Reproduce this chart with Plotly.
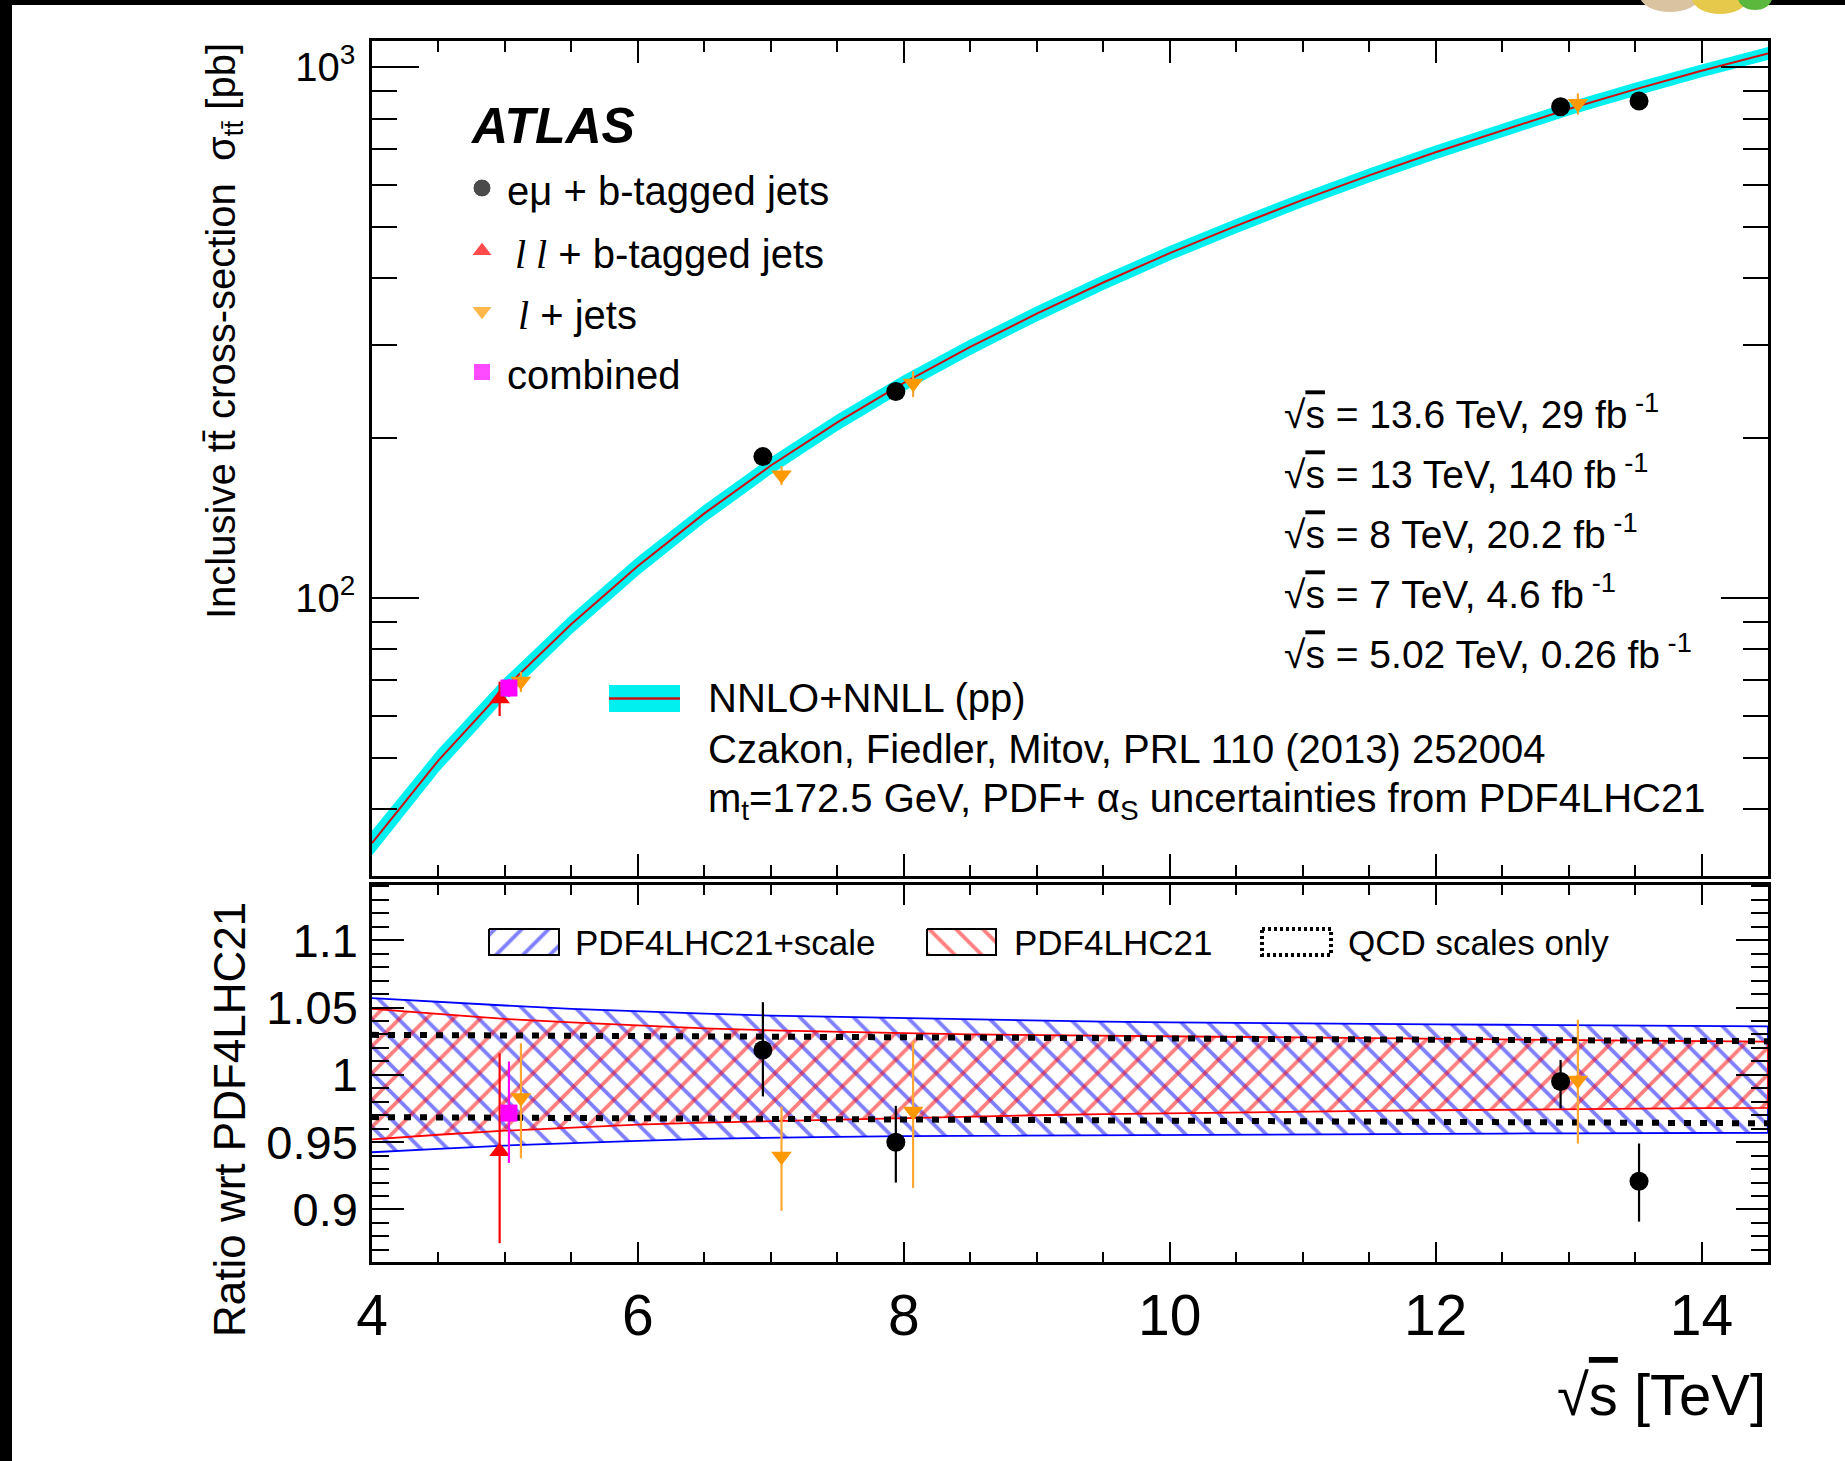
import plotly.graph_objects as go

# ---------------- data ----------------
theory_x = [4.0, 4.5, 5.0, 5.5, 6.0, 6.5, 7.0, 7.5, 8.0, 8.5, 9.0, 9.5,
            10.0, 10.5, 11.0, 11.5, 12.0, 12.5, 13.0, 13.5, 14.0, 14.5]
theory_xsec = [34.5, 49.4, 67.6, 89.2, 114.8, 144.2, 177.5, 214.1, 254.0, 296.9, 343.0, 392.8,
               446.0, 502.0, 562.0, 625.0, 691.0, 760.0, 834.0, 908.0, 984.0, 1061.0]
# PDF4LHC21 + scale (total) relative band
tot_hi = [1.057, 1.054, 1.0515, 1.049, 1.047, 1.0455, 1.044, 1.043, 1.042, 1.041, 1.040, 1.0395,
          1.039, 1.0385, 1.038, 1.0378, 1.0375, 1.0372, 1.037, 1.0366, 1.0362, 1.036]
tot_lo = [0.9425, 0.945, 0.9475, 0.9495, 0.951, 0.9525, 0.9535, 0.954, 0.9545, 0.955, 0.955, 0.9552,
          0.9555, 0.9557, 0.956, 0.956, 0.9562, 0.9564, 0.9566, 0.9568, 0.957, 0.957]
# PDF4LHC21 (PDF + alpha_s) relative band
pdf_hi = [1.049, 1.045, 1.0415, 1.039, 1.0365, 1.0345, 1.033, 1.0318, 1.031, 1.030, 1.0295, 1.029,
          1.0285, 1.028, 1.0275, 1.027, 1.0265, 1.026, 1.0257, 1.0254, 1.025, 1.0247]
pdf_lo = [0.952, 0.9555, 0.9585, 0.961, 0.963, 0.9645, 0.966, 0.967, 0.968, 0.969, 0.970, 0.9708,
          0.9715, 0.972, 0.9727, 0.9732, 0.9737, 0.9742, 0.9746, 0.975, 0.9753, 0.9755]
# QCD scales only
scale_x = [4.0, 14.5]
scale_hi = [1.0297, 1.0250]
scale_lo = [0.9686, 0.9640]

# measurements
em_x = [6.94, 7.94, 12.94, 13.53]
em_xsec = [184.5, 244.7, 842.0, 863.0]
em_ratio = [1.0185, 0.950, 0.995, 0.921]
em_ratio_hi = [1.054, 0.977, 1.011, 0.949]
em_ratio_lo = [0.984, 0.920, 0.975, 0.891]

ll_x = [4.96]
ll_xsec = [64.5]
ll_ratio = [0.943]
ll_ratio_hi = [1.016]
ll_ratio_lo = [0.875]

lj_x = [5.12, 7.08, 8.07, 13.07]
lj_xsec = [69.6, 170.4, 253.7, 854.0]
lj_ratio = [0.983, 0.9395, 0.973, 0.996]
lj_ratio_hi = [1.0235, 0.9765, 1.025, 1.041]
lj_ratio_lo = [0.938, 0.899, 0.916, 0.949]

comb_x = [5.03]
comb_xsec = [67.6]
comb_ratio = [0.9716]
comb_ratio_hi = [1.0099]
comb_ratio_lo = [0.9346]

sqrt_s_labels = ["13.6 TeV, 29 fb", "13 TeV, 140 fb", "8 TeV, 20.2 fb", "7 TeV, 4.6 fb", "5.02 TeV, 0.26 fb"]

# ---------------- layout geometry (pixels) ----------------
W, H = 1845, 1461
X0, X1 = 372, 1768
TOP_T, TOP_B = 41, 876
BOT_T, BOT_B = 885, 1262

FONT = "Liberation Sans, Arial, sans-serif"
BLACK = "#000000"
ORANGE = "#ff9900"
ORANGE_E = "#ffa733"
MAGENTA = "#ff00ff"
RED = "#ff0000"
BLUE = "#0000ff"
CYAN = "#00f0f0"

HATCH_SIZE = 19
HATCH_SOL = 0.2

fig = go.Figure()

# ---------------- top panel ----------------
band_up = [t * h for t, h in zip(theory_xsec, pdf_hi)]
band_dn = [t * l for t, l in zip(theory_xsec, pdf_lo)]
fig.add_trace(go.Scatter(x=theory_x + theory_x[::-1], y=band_up + band_dn[::-1],
                         fill="toself", fillcolor=CYAN, line=dict(color=CYAN, width=1.5),
                         mode="lines", xaxis="x2", yaxis="y2", showlegend=False, hoverinfo="skip"))
fig.add_trace(go.Scatter(x=theory_x, y=theory_xsec, mode="lines", line=dict(color="#d01010", width=2),
                         xaxis="x2", yaxis="y2", showlegend=False))


def rel_err(vals, r, rhi, rlo):
    up = [v * (h / c - 1) for v, c, h in zip(vals, r, rhi)]
    dn = [v * (1 - l / c) for v, c, l in zip(vals, r, rlo)]
    return up, dn


def add_points(x, y, up, dn, symbol, color, ecolor, size, xa, ya):
    fig.add_trace(go.Scatter(
        x=x, y=y, mode="markers",
        marker=dict(symbol=symbol, color=color, size=size, line=dict(width=0)),
        error_y=dict(type="data", symmetric=False, array=up, arrayminus=dn,
                     width=0, thickness=2.2, color=ecolor),
        xaxis=xa, yaxis=ya, showlegend=False, cliponaxis=False))


series = [
    (ll_x, ll_xsec, ll_ratio, ll_ratio_hi, ll_ratio_lo, "triangle-up", RED, RED, 18),
    (lj_x, lj_xsec, lj_ratio, lj_ratio_hi, lj_ratio_lo, "triangle-down", ORANGE, ORANGE_E, 18),
    (comb_x, comb_xsec, comb_ratio, comb_ratio_hi, comb_ratio_lo, "square", MAGENTA, MAGENTA, 17),
    (em_x, em_xsec, em_ratio, em_ratio_hi, em_ratio_lo, "circle", BLACK, BLACK, 19),
]
for sx, sy, sr, shi, slo, sym, col, ecol, sz in series:
    up, dn = rel_err(sy, sr, shi, slo)
    add_points(sx, sy, up, dn, sym, col, ecol, sz, "x2", "y2")

# ---------------- ratio panel ----------------
fig.add_trace(go.Scatter(x=theory_x + theory_x[::-1], y=tot_hi + tot_lo[::-1], fill="toself",
                         fillcolor="rgba(0,0,0,0)",
                         fillpattern=dict(shape="\\", fgcolor=BLUE, bgcolor="rgba(0,0,0,0)",
                                          size=HATCH_SIZE, solidity=HATCH_SOL),
                         line=dict(color=BLUE, width=1.8), mode="lines",
                         xaxis="x", yaxis="y", showlegend=False, hoverinfo="skip"))
fig.add_trace(go.Scatter(x=theory_x + theory_x[::-1], y=pdf_hi + pdf_lo[::-1], fill="toself",
                         fillcolor="rgba(0,0,0,0)",
                         fillpattern=dict(shape="/", fgcolor=RED, bgcolor="rgba(0,0,0,0)",
                                          size=HATCH_SIZE, solidity=HATCH_SOL),
                         line=dict(color=RED, width=1.8), mode="lines",
                         xaxis="x", yaxis="y", showlegend=False, hoverinfo="skip"))
for arr in (scale_hi, scale_lo):
    fig.add_trace(go.Scatter(x=scale_x, y=arr, mode="lines",
                             line=dict(color=BLACK, width=6, dash="7px,9px"),
                             xaxis="x", yaxis="y", showlegend=False))

for sx, sy, sr, shi, slo, sym, col, ecol, sz in series:
    up = [h - c for c, h in zip(sr, shi)]
    dn = [c - l for c, l in zip(sr, slo)]
    add_points(sx, sr, up, dn, sym, col, ecol, sz, "x", "y")

# ---------------- overlay (pixel coordinates) for legends ----------------
fig.add_trace(go.Scatter(x=[482, 482, 482, 482], y=[188, 251, 311, 372], mode="markers",
                         marker=dict(symbol=["circle", "triangle-up", "triangle-down", "square"],
                                     color=[BLACK, RED, ORANGE, MAGENTA], size=[18, 18, 18, 17]),
                         xaxis="x3", yaxis="y3", showlegend=False, hoverinfo="skip"))
fig.add_trace(go.Scatter(x=[489, 559, 559, 489, 489], y=[929, 929, 955, 955, 929], fill="toself",
                         fillcolor="rgba(0,0,0,0)",
                         fillpattern=dict(shape="/", fgcolor=BLUE, bgcolor="rgba(0,0,0,0)",
                                          size=HATCH_SIZE, solidity=HATCH_SOL),
                         line=dict(color=BLACK, width=2), mode="lines",
                         xaxis="x3", yaxis="y3", showlegend=False, hoverinfo="skip"))
fig.add_trace(go.Scatter(x=[927, 996, 996, 927, 927], y=[929, 929, 955, 955, 929], fill="toself",
                         fillcolor="rgba(0,0,0,0)",
                         fillpattern=dict(shape="\\", fgcolor=RED, bgcolor="rgba(0,0,0,0)",
                                          size=HATCH_SIZE, solidity=HATCH_SOL),
                         line=dict(color=BLACK, width=2), mode="lines",
                         xaxis="x3", yaxis="y3", showlegend=False, hoverinfo="skip"))
fig.add_trace(go.Scatter(x=[1262, 1331, 1331, 1262, 1262], y=[929, 929, 955, 955, 929],
                         line=dict(color=BLACK, width=4, dash="3px,3px"), mode="lines",
                         xaxis="x3", yaxis="y3", showlegend=False, hoverinfo="skip"))

shapes = [
    dict(type="rect", xref="x3", yref="y3", x0=609, x1=680, y0=685, y1=712,
         fillcolor=CYAN, line=dict(width=0)),
    dict(type="line", xref="x3", yref="y3", x0=609, x1=680, y0=698.5, y1=698.5,
         line=dict(color="#d01010", width=2.5)),
    # black borders of the photographed page
    dict(type="rect", xref="x3", yref="y3", x0=0, x1=12, y0=0, y1=H,
         fillcolor="black", line=dict(width=0)),
    dict(type="rect", xref="x3", yref="y3", x0=0, x1=W, y0=0, y1=5,
         fillcolor="black", line=dict(width=0)),
    dict(type="circle", xref="x3", yref="y3", x0=1640, x1=1700, y0=-20, y1=12,
         fillcolor="#d9c3a0", line=dict(width=0)),
    dict(type="circle", xref="x3", yref="y3", x0=1692, x1=1748, y0=-18, y1=14,
         fillcolor="#e6c84a", line=dict(width=0)),
    dict(type="circle", xref="x3", yref="y3", x0=1738, x1=1772, y0=-14, y1=10,
         fillcolor="#5cb83c", line=dict(width=0)),
]

ann = []


def text(x, y, s, size, xanchor="left", yanchor="middle", angle=0, color="black", family=FONT):
    ann.append(dict(x=x, y=y, xref="x3", yref="y3", text=s, showarrow=False,
                    xanchor=xanchor, yanchor=yanchor, textangle=angle,
                    font=dict(size=size, color=color, family=family)))


text(468, 126, "<b><i>ATLAS</i></b>", 50)
text(505, 191, "eμ + b-tagged jets", 40)
text(513, 254, "<span style='font-family:Liberation Serif'><i>l l</i></span> + b-tagged jets", 40)
text(516, 315, "<span style='font-family:Liberation Serif'><i>l</i></span> + jets", 40)
text(505, 375, "combined", 40)

SQ = "√<span style='text-decoration:overline'>s</span>"
for i, lab in enumerate(sqrt_s_labels):
    text(1282, 411 + 60 * i, SQ + " = " + lab + "<sup> -1</sup>", 39)

text(706, 698, "NNLO+NNLL (pp)", 40)
text(706, 749, "Czakon, Fiedler, Mitov, PRL 110 (2013) 252004", 40)
text(706, 801, "m<sub>t</sub>=172.5 GeV, PDF+ α<sub>S</sub> uncertainties from PDF4LHC21", 40)

text(573, 942, "PDF4LHC21+scale", 35)
text(1012, 942, "PDF4LHC21", 35)
text(1346, 942, "QCD scales only", 35)

text(224, 331, "Inclusive tt\u0304 cross-section  σ<sub>tt\u0304</sub> [pb]", 40, xanchor="center",
     yanchor="middle", angle=-90)
text(229, 1120, "Ratio wrt PDF4LHC21", 44, xanchor="center", yanchor="middle", angle=-90)
text(1768, 1394, SQ + " [TeV]", 58, xanchor="right", yanchor="middle")

# ---------------- axes ----------------
xd = [X0 / W, X1 / W]
top_dom = [1 - TOP_B / H, 1 - TOP_T / H]
bot_dom = [1 - BOT_B / H, 1 - BOT_T / H]

axis_common = dict(showline=True, linecolor="black", linewidth=2.5, mirror="ticks",
                   ticks="inside", tickcolor="black", tickwidth=2, showgrid=False, zeroline=False,
                   automargin=False)

fig.update_layout(
    width=W, height=H, margin=dict(l=0, r=0, t=0, b=0, pad=0, autoexpand=False),
    paper_bgcolor="white", plot_bgcolor="rgba(0,0,0,0)",
    font=dict(family=FONT, color="black"),
    showlegend=False,
    shapes=shapes, annotations=ann,
    xaxis=dict(domain=xd, anchor="y", range=[4, 14.5], dtick=2, tick0=4, ticklen=20,
               tickfont=dict(size=57), ticklabelstandoff=2,
               minor=dict(dtick=0.5, tick0=4, ticklen=10, ticks="inside", tickwidth=2,
                          tickcolor="black", showgrid=False),
               **axis_common),
    yaxis=dict(domain=bot_dom, anchor="x", range=[0.861, 1.141],
               tickmode="array", tickvals=[0.9, 0.95, 1.0, 1.05, 1.1],
               ticktext=["0.9", "0.95", "1", "1.05", "1.1"], ticklen=32,
               tickfont=dict(size=47), ticklabelstandoff=2,
               minor=dict(dtick=0.01, tick0=0.86, ticklen=17, ticks="inside", tickwidth=2,
                          tickcolor="black", showgrid=False),
               **axis_common),
    xaxis2=dict(domain=xd, anchor="y2", range=[4, 14.5], dtick=2, tick0=4, ticklen=22,
                showticklabels=False, matches="x",
                minor=dict(dtick=0.5, tick0=4, ticklen=11, ticks="inside", tickwidth=2,
                           tickcolor="black", showgrid=False),
                **axis_common),
    yaxis2=dict(domain=top_dom, anchor="x2", type="log", range=[1.4757, 3.0492],
                tickmode="array", tickvals=[100, 1000],
                ticktext=["10<sup>2</sup>", "10<sup>3</sup>"], ticklen=47,
                tickfont=dict(size=40), ticklabelstandoff=6,
                minor=dict(tickmode="array",
                           tickvals=[40, 50, 60, 70, 80, 90, 200, 300, 400, 500, 600, 700, 800, 900],
                           ticklen=25, ticks="inside", tickwidth=2, tickcolor="black", showgrid=False),
                **axis_common),
    xaxis3=dict(domain=[0, 1], anchor="y3", range=[0, W], visible=False, fixedrange=True,
                automargin=False),
    yaxis3=dict(domain=[0, 1], anchor="x3", range=[H, 0], visible=False, fixedrange=True,
                automargin=False),
)

fig.write_html("out.html")
